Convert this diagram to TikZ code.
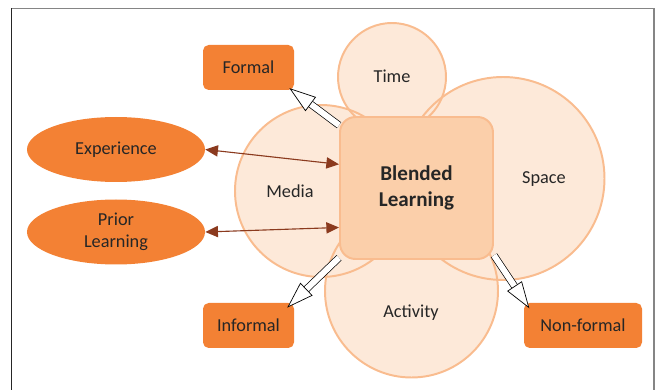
\documentclass[tikz,border=0pt]{standalone}
\usepackage{fontspec}
\setmainfont{Carlito}
\usetikzlibrary{arrows.meta,shapes.geometric}
\definecolor{peachfill}{HTML}{FDE9D9}
\definecolor{peachline}{HTML}{F9BC8F}
\definecolor{corefill}{HTML}{FBCFAA}
\definecolor{orangebox}{HTML}{F38134}
\definecolor{linkred}{HTML}{8B3A1E}
\definecolor{labelgray}{HTML}{262626}
\definecolor{framegray}{HTML}{858585}
\tikzset{
  facet/.style={fill=peachfill},
  facetline/.style={draw=peachline, line width=1.4pt},
  core/.style={rectangle, rounded corners=11pt, fill=corefill, draw=peachline,
    line width=1.4pt, minimum width=3.825cm, minimum height=3.55cm, align=center,
    font=\fontsize{15}{19}\selectfont\bfseries},
  kindbox/.style={rectangle, rounded corners=4pt, fill=orangebox, inner sep=0pt,
    minimum width=2.275cm, minimum height=1.125cm},
  source/.style={ellipse, fill=orangebox, inner sep=0pt, align=center,
    minimum width=4.45cm, minimum height=1.625cm},
  link/.style={draw=linkred, line width=0.8pt,
    {Triangle[length=9pt,width=8pt]}-{Triangle[length=9pt,width=8pt]}},
  hollow/.style={draw=black, line width=0.5pt, double=white, double distance=4.2pt,
    -{Triangle[open, fill=white, length=19pt, width=12.5pt, line width=0.5pt]}}
}
\begin{document}
\begin{tikzpicture}[font=\fontsize{13}{15.6}\selectfont, text=labelgray]
            \useasboundingbox (0,0) rectangle (16.500000,9.750000);
            
            % Drawing frame
            \draw [line width=1.2pt, framegray] (0.287500,9.537500) -- (16.350000,9.537500) -- (16.350000,-0.100000);%
            \draw [line width=1.2pt, black!85] (0.287500,-0.100000) -- (0.287500,9.537500);%
            
            % Filling facets
            \fill [facet] (9.800000,7.825000) circle (1.350000);%
            \fill [facet] (8.025000,4.975000) circle (2.150000);%
            \fill [facet] (12.575000,5.287500) circle (2.537500);%
            \fill [facet] (10.287500,2.475000) circle (2.162500);%
            
            % Outlining facets
            \draw [facetline] (9.800000,7.825000) circle (1.350000);%
            \draw [facetline] (8.025000,4.975000) circle (2.150000);%
            \draw [facetline] (12.575000,5.287500) circle (2.537500);%
            \draw [facetline] (10.287500,2.475000) circle (2.162500);%
            
            % Marking facets
            \node (time) at (9.800000,7.850000) {Time};%
            \node (media) at (7.250000,4.975000) {Media};%
            \node (space) at (13.600000,5.275000) {Space};%
            \node (activity) at (10.275000,1.925000) {Activity};%
            
            % Drawing blended learning
            \node [core] (bl) at (10.412500,5.050000) {Blended\\Learning};%
            
            % Drawing kinds of learning
            \node [kindbox] (formal) at (6.212500,8.062500) {Formal};%
            \node [kindbox] (informal) at (6.212500,1.612500) {Informal};%
            \node [kindbox, minimum width=2.950000cm] (nonformal) at (14.575000,1.612500) {Non-formal};%
            
            % Drawing sources
            \node [source] (experience) at (2.900000,6.012500) {Experience};%
            \node [source] (prior) at (2.900000,3.950000) {Prior\\Learning};%
            
            % Drawing links
            \draw [link] (experience.east) -- (bl.163);%
            \draw [link] (prior.east) -- (bl.207);%
            
            % Drawing hollow arrows
            \draw [hollow] (bl.141) -- ([xshift=-3.5pt,yshift=1.5pt]formal.south east);%
            \draw [hollow] (bl.222) -- ([xshift=-5pt,yshift=-3.5pt]informal.north east);%
            \draw [hollow] (bl.-41) -- ([xshift=4pt,yshift=-4pt]nonformal.north west);%
\end{tikzpicture}
\end{document}
